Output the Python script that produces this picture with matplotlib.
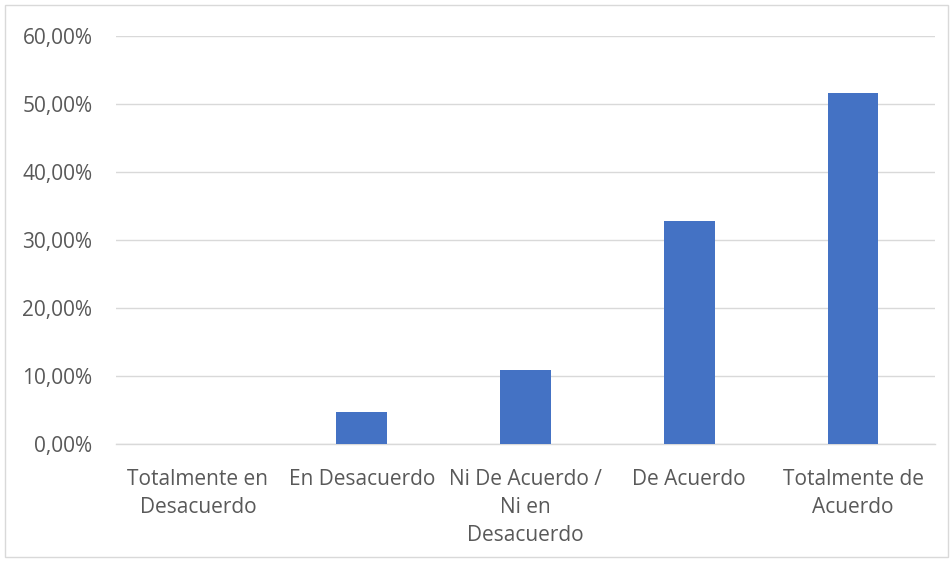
import matplotlib
matplotlib.use("Agg")
import matplotlib.pyplot as plt
from matplotlib.patches import Rectangle
from matplotlib.ticker import FuncFormatter

categories = ["Totalmente en\nDesacuerdo", "En Desacuerdo", "Ni De Acuerdo /\nNi en\nDesacuerdo",
              "De Acuerdo", "Totalmente de\nAcuerdo"]
values = [0.0, 4.69, 10.94, 32.81, 51.56]
yticks = [0, 10, 20, 30, 40, 50, 60]

plt.rcParams["font.family"] = ["Open Sans", "DejaVu Sans"]
text_color = "#595959"

fig = plt.figure(figsize=(9.52, 5.61), dpi=100)
ax = fig.add_axes([116 / 952, 1 - 444 / 561, (935 - 116) / 952, (444 - 36) / 561])

x = list(range(len(categories)))
ax.bar(x, values, width=0.31, color="#4472C4", zorder=3)

ax.set_xlim(-0.5, len(categories) - 0.5)
ax.set_ylim(0, 60)
ax.set_yticks(yticks)
ax.yaxis.set_major_formatter(FuncFormatter(lambda v, p: f"{v:.2f}%".replace(".", ",")))
ax.set_xticks(x)
ax.set_xticklabels(categories, linespacing=1.45)
ax.grid(axis="y", color="#D9D9D9", linewidth=1.0, zorder=0)
ax.tick_params(axis="both", length=0, colors=text_color, labelsize=15)
ax.tick_params(axis="y", pad=17)
ax.tick_params(axis="x", pad=18)
for s in ["top", "right", "left"]:
    ax.spines[s].set_visible(False)
ax.spines["bottom"].set_color("#D9D9D9")
ax.spines["bottom"].set_linewidth(1.0)

fig.patches.append(Rectangle((5 / 952, 4 / 561), 943 / 952, 552 / 561, transform=fig.transFigure,
                             fill=False, edgecolor="#D9D9D9", linewidth=1.0))

fig.savefig("out.png", dpi=100, facecolor="white")
